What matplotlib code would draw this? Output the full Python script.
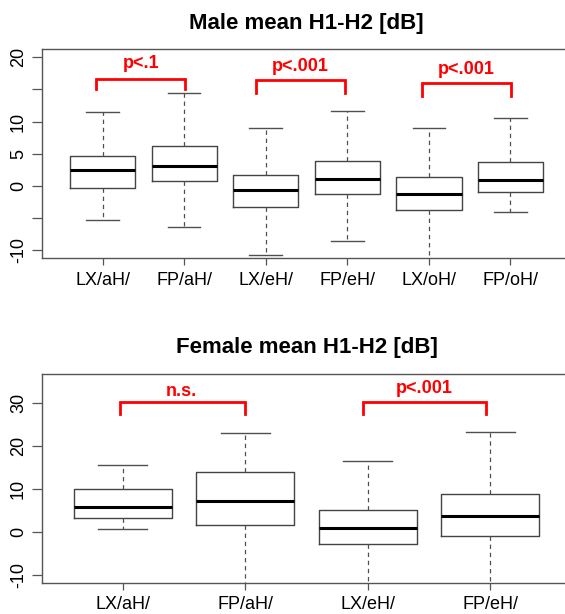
import matplotlib
matplotlib.use("Agg")
import matplotlib.pyplot as plt

plt.rcParams["font.family"] = ["Liberation Sans", "DejaVu Sans"]

# Male H1-H2 per condition (box summary, dB)
male_labels = ["LX/aH/", "FP/aH/", "LX/eH/", "FP/eH/", "LX/oH/", "FP/oH/"]
male_whislo = [-5.3, -6.4, -10.7, -8.6, -13.0, -4.1]
male_q1 = [-0.3, 0.7, -3.2, -1.3, -3.8, -1.0]
male_med = [2.5, 3.1, -0.7, 1.0, -1.2, 0.9]
male_q3 = [4.7, 6.2, 1.7, 3.9, 1.4, 3.7]
male_whishi = [11.5, 14.4, 9.0, 11.6, 9.0, 10.5]

# Female H1-H2 per condition
female_labels = ["LX/aH/", "FP/aH/", "LX/eH/", "FP/eH/"]
female_whislo = [0.7, -14.0, -14.0, -14.0]
female_q1 = [3.35, 1.7, -2.9, -0.9]
female_med = [5.7, 7.2, 0.8, 3.75]
female_q3 = [10.05, 13.95, 5.15, 8.9]
female_whishi = [15.7, 23.0, 16.5, 23.2]

# significance brackets: left, right, top, leg end, label, label x, label baseline
male_sig_left = [0.925, 2.883, 4.912]
male_sig_right = [2.015, 3.975, 6.009]
male_sig_top = [16.6, 16.5, 16.0]
male_sig_bottom = [15.0, 14.5, 14.0]
male_sig_text = ["p<.1", "p<.001", "p<.001"]
male_sig_tx = [1.47, 3.42, 5.46]
male_sig_ty = [18.3, 17.9, 17.4]

female_sig_left = [0.976, 2.96]
female_sig_right = [2.0, 3.97]
female_sig_top = [30.2, 30.2]
female_sig_bottom = [27.4, 27.4]
female_sig_text = ["n.s.", "p<.001"]
female_sig_tx = [1.48, 3.46]
female_sig_ty = [31.6, 32.3]


def make_stats(labels, lo, q1, med, q3, hi):
    stats = []
    for i in range(len(labels)):
        stats.append({
            "label": labels[i],
            "whislo": lo[i], "q1": q1[i], "med": med[i],
            "q3": q3[i], "whishi": hi[i], "fliers": [],
        })
    return stats


def draw_panel(ax, title, stats, ylim, yticks, ylabels,
               sig_left, sig_right, sig_top, sig_bottom, sig_text, sig_tx, sig_ty):
    n = len(stats)
    ax.bxp(
        stats, positions=range(1, n + 1), widths=0.8, showfliers=False,
        boxprops=dict(color="#444444", linewidth=1.0),
        medianprops=dict(color="black", linewidth=2.2),
        whiskerprops=dict(color="#505050", linewidth=0.9, linestyle=(0, (3.5, 3))),
        capprops=dict(color="#505050", linewidth=1.0),
    )
    # R-style 4% padding around the data range
    pad = 0.04 * n
    ax.set_xlim(0.5 - pad, n + 0.5 + pad)
    span = ylim[1] - ylim[0]
    ax.set_ylim(ylim[0] - 0.04 * span, ylim[1] + 0.04 * span)

    ax.set_xticks(range(1, n + 1))
    ax.set_xticklabels([s["label"] for s in stats], fontsize=13)
    ax.set_yticks(yticks)
    ax.set_yticklabels(ylabels, fontsize=13, rotation=90, va="center")
    ax.tick_params(axis="x", length=4.8, width=0.9, color="#555555", pad=5)
    ax.tick_params(axis="y", length=7, width=0.9, color="#555555", pad=4)
    for sp in ax.spines.values():
        sp.set_color("#555555")
        sp.set_linewidth(1.0)

    for i in range(len(sig_text)):
        ax.plot([sig_left[i], sig_left[i], sig_right[i], sig_right[i]],
                [sig_bottom[i], sig_top[i], sig_top[i], sig_bottom[i]],
                color="#ff0000", linewidth=2.0, solid_joinstyle="miter",
                clip_on=False)
        ax.text(sig_tx[i], sig_ty[i], sig_text[i], color="#ff0000",
                fontsize=13, fontweight="bold", ha="center", va="baseline")

    ax.set_title(title, fontsize=16, fontweight="bold", pad=14.8)


fig = plt.figure(figsize=(5.65, 6.14), dpi=100)
ax_male = fig.add_axes([0.0747, 0.5798, 0.9356, 0.3396])
ax_female = fig.add_axes([0.0747, 0.0513, 0.9356, 0.3396])

draw_panel(ax_male, "Male mean H1-H2 [dB]",
           make_stats(male_labels, male_whislo, male_q1, male_med, male_q3, male_whishi),
           (-10, 20), [-10, -5, 0, 5, 10, 15, 20], ["-10", "", "0", "5", "10", "", "20"],
           male_sig_left, male_sig_right, male_sig_top, male_sig_bottom,
           male_sig_text, male_sig_tx, male_sig_ty)

draw_panel(ax_female, "Female mean H1-H2 [dB]",
           make_stats(female_labels, female_whislo, female_q1, female_med, female_q3, female_whishi),
           (-10, 35), [-10, 0, 10, 20, 30], ["-10", "0", "10", "20", "30"],
           female_sig_left, female_sig_right, female_sig_top, female_sig_bottom,
           female_sig_text, female_sig_tx, female_sig_ty)

fig.savefig("out.png", dpi=100)
